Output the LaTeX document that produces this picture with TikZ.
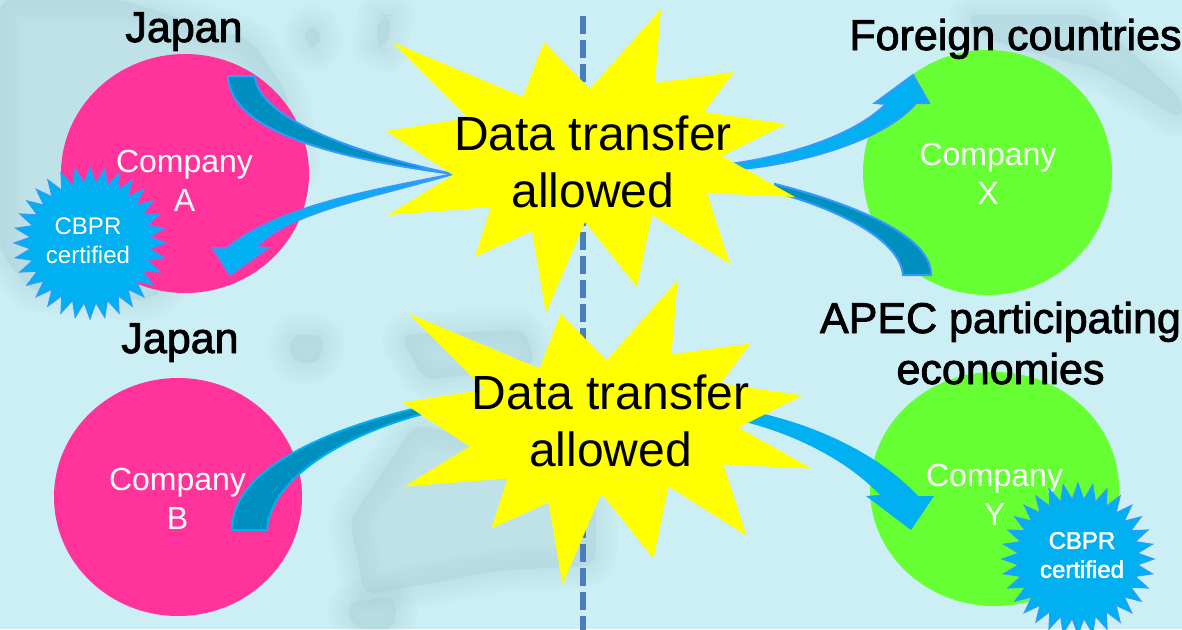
\documentclass[tikz,border=0pt]{standalone}
\usepackage{fontspec}
\setmainfont{Liberation Sans}
\newfontfamily\heavyfont[FakeBold=2]{Liberation Sans}
\usetikzlibrary{shapes.geometric, positioning}
\definecolor{seabg}{HTML}{CCEEF5}
\definecolor{landc}{HTML}{A4CBD3}
\definecolor{pinkc}{HTML}{FF3399}
\definecolor{greenc}{HTML}{66FF33}
\definecolor{burstc}{RGB}{255,255,0}
\definecolor{darkarrow}{HTML}{0090C0}
\definecolor{lightarrow}{HTML}{00B0F0}
\definecolor{arrowline}{HTML}{3399FF}
\definecolor{dashc}{HTML}{4A7EBB}
\newcommand{\landblob}[1]{\foreach \w in {44,36,28,20,12,4}{\path[land, line width=\w pt] #1;}}
\tikzset{
  burst/.pic={\fill[burstc] (392,42) -- (523,97) -- (544,42) -- (590,89) -- (661,9) -- (655,83)
     -- (734,72) -- (704,112) -- (786,124) -- (722,156) -- (795,197) -- (707,193) -- (730,264)
     -- (652,215) -- (637,287) -- (585,222) -- (546,313) -- (532,231) -- (475,257) -- (491,207)
     -- (388,215) -- (453,175) -- (386,131) -- (468,118) -- cycle;}
}
\begin{document}
\begin{tikzpicture}[x=1pt,y=-1pt,
  land/.style={draw=landc,fill=landc,opacity=.05,line join=round,rounded corners=12pt},
  main node/.style={ellipse,inner sep=0pt},
  stamp/.style={star,star points=32,star point ratio=1.27,inner sep=0pt,minimum size=152pt,
  fill=lightarrow,draw=arrowline,line width=1pt},
  company/.style={align=center,text=white,font=\fontsize{32}{39}\selectfont},
  region/.style={align=center,anchor=base,font=\heavyfont\fontsize{43}{51}\selectfont},
  allowed/.style={align=center,font=\fontsize{48}{57}\selectfont},
  certified/.style={align=center,text=white,font=\fontsize{24}{29}\selectfont},
  darkflow/.style={fill=darkarrow,draw=arrowline,line width=2pt,line join=miter},
  lightflow/.style={fill=lightarrow,draw=arrowline,line width=2pt,line join=miter}]
  \useasboundingbox (0,0) rectangle (1182,629);
  \fill[seabg] (0,0) rectangle (1182,629);

  % map behind everything
  \landblob{(0,0) -- (120,0) -- (250,40) -- (285,90) -- (300,170) -- (150,300) -- (30,290) -- (0,250) -- cycle}
  \landblob{(965,15) -- (1090,15) -- (1150,70) -- (1182,100) -- (1182,120) -- (1100,70) -- (990,40) -- cycle}
  \landblob{(305,25) -- (322,30) -- (318,50) -- (305,45) -- cycle}
  \landblob{(380,15) -- (392,15) -- (385,50) -- (375,45) -- cycle}
  \landblob{(290,335) -- (325,335) -- (318,365) -- (290,360) -- cycle}
  \landblob{(400,335) -- (525,330) -- (535,365) -- (425,380) -- cycle}
  \landblob{(415,425) -- (510,445) -- (595,500) -- (595,565) -- (500,570) -- (365,595) -- (350,520) -- cycle}
  \landblob{(345,605) -- (395,595) -- (395,629) -- (355,629) -- cycle}

  \coordinate (LT) at (583,16);
  \coordinate (LB) at (583,640);
  \draw[dashc,line width=6pt,dash pattern=on 18pt off 6pt] (LT) -- (LB);

  \node[main node,fill=pinkc,minimum width=248pt,minimum height=239pt] (CA) at (185,173.5) {};
  \node[main node,fill=greenc,minimum width=249pt,minimum height=245pt] (CX) at (987.5,172.5) {};
  \node[main node,fill=pinkc,minimum width=248pt,minimum height=238pt] (CB) at (178,497) {};
  \node[main node,fill=greenc,minimum width=249pt,minimum height=234pt] (CY) at (994.5,489) {};

  \node[company] (TA) at (184.5,181) {Company\\A};
  \node[company] (TX) at (988,174) {Company\\X};
  \node[company] (TB) at (177.5,499) {Company\\B};
  \node[company] (TY) at (994.5,495) {Company\\Y};

  % block arrows, drawn as outlines
  \draw[darkflow] (228,76) -- (255,76) .. controls (258,115) and (340,150) .. (453,174)
     .. controls (310,155) and (230,125) .. (228,76) -- cycle;
  \draw[lightflow] (453,174) .. controls (375,190) and (280,205) .. (227,248) -- (213,248) -- (230,275)
     -- (268,248) -- (256,247) .. controls (290,212) and (370,198) .. (453,174) -- cycle;
  \draw[lightflow] (730,164) .. controls (790,156) and (855,135) .. (886,104) -- (875,103) -- (913,75)
     -- (929,103) -- (916,103) .. controls (885,140) and (800,165) .. (730,170) -- cycle;
  \draw[darkflow] (775,184) .. controls (850,203) and (932,235) .. (931,275) -- (903,275)
     .. controls (900,240) and (840,210) .. (775,192) -- cycle;
  \draw[darkflow,draw=lightarrow] (232,530) .. controls (232,465) and (340,425) .. (430,405) -- (430,412)
     .. controls (340,435) and (270,480) .. (267,530) -- cycle;
  \draw[lightflow,draw=none] (745,410) .. controls (815,423) and (880,455) .. (918,496) -- (934,496)
     -- (911,530) -- (866,496) -- (880,495) .. controls (845,458) and (790,433) .. (745,422) -- cycle;

  \pic at (0,0) {burst};
  \pic at (16.5,271.5) {burst};

  \node[allowed] (DA) at (593,162) {Data transfer\\allowed};
  \node[allowed] (DB) at (610.5,420.5) {Data transfer\\allowed};

  \node[stamp] (SA) at (90,243) {};
  \node[stamp] (SY) at (1078,559) {};
  \node[certified] (LA) at (88,241) {CBPR\\certified};
  \node[certified,font=\heavyfont\fontsize{24}{29}\selectfont] (LY) at (1082,555) {CBPR\\certified};

  \node[region] (RA) at (184,42) {Japan};
  \node[region] (RB) at (180,353) {Japan};
  \node[region] (RX) at (1015.5,50) {Foreign countries};
  \node[region] (RY) at (1000.5,384) {APEC participating\\economies};
\end{tikzpicture}
\end{document}
